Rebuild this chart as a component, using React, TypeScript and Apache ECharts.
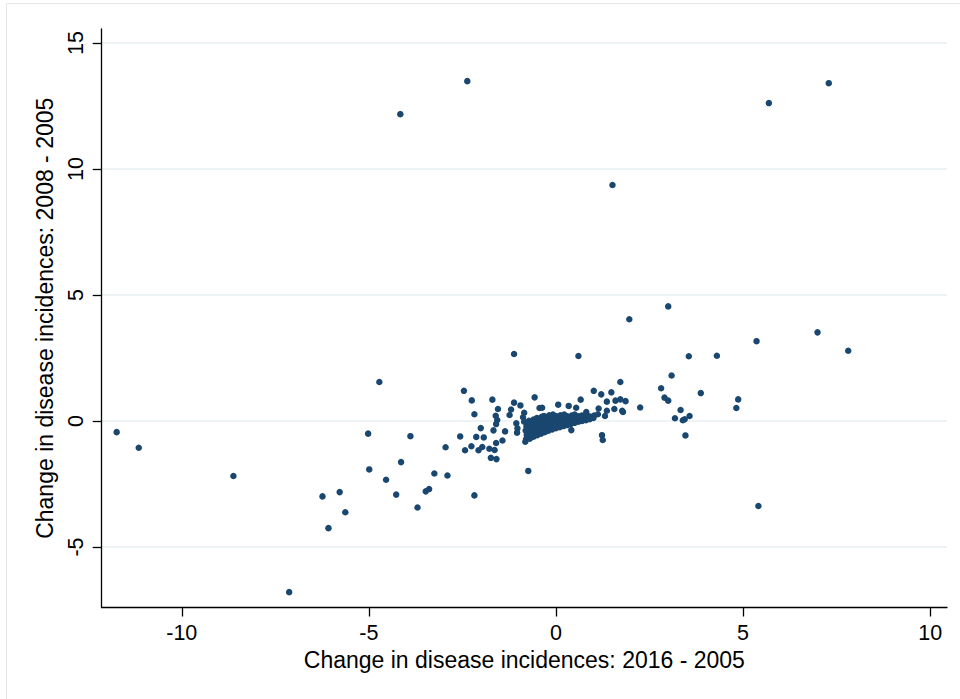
import { useEffect, useRef } from "react";
import * as echarts from "echarts";

const X_TICKS = [-10, -5, 0, 5, 10];
const Y_TICKS = [-5, 0, 5, 10, 15];
const X_TITLE = "Change in disease incidences: 2016 - 2005";
const Y_TITLE = "Change in disease incidences: 2008 - 2005";

// [change 2016-2005, change 2008-2005]
const outlierPoints: [number, number][] = [
  [-2.37, 13.49], [-4.16, 12.18], [1.51, 9.37], [5.69, 12.62], [7.29, 13.41],
  [1.96, 4.04], [3.0, 4.55], [3.55, 2.57], [4.3, 2.59], [5.36, 3.17], [6.99, 3.52], [7.81, 2.79],
  [-1.12, 2.66], [0.6, 2.58], [-4.72, 1.55], [5.41, -3.37], [-0.74, -1.98],
  [-11.74, -0.44], [-11.15, -1.06], [-8.62, -2.18], [-6.24, -2.99], [-5.78, -2.82],
  [-5.63, -3.62], [-6.08, -4.25], [-7.13, -6.79],
];

const rightPoints: [number, number][] = [
  [3.09, 1.81], [2.81, 1.3], [2.9, 0.93], [3.0, 0.81], [3.87, 1.11], [4.87, 0.86], [4.82, 0.52],
  [3.33, 0.44], [3.57, 0.2], [3.18, 0.11], [3.39, 0.03], [3.44, 0.07], [3.46, -0.57],
  [1.72, 1.55], [1.72, 0.86], [1.86, 0.79], [1.79, 0.36], [2.25, 0.54], [1.56, 0.48], [1.77, 0.41],
  [-0.44, 0.52], [-0.37, 0.53], [0.06, 0.65], [0.34, 0.6], [0.54, 0.53], [0.66, 0.85],
  [1.01, 1.2], [1.21, 1.06], [1.48, 1.14], [1.36, 0.77], [1.14, 0.5], [1.36, 0.41], [1.31, 0.2],
  [0.81, 0.36], [0.41, -0.36], [1.23, -0.56], [1.25, -0.75], [1.59, 0.81], [1.12, 0.27], [0.84, 0.21],
  [-0.57, 0.94],
];

const leftPoints: [number, number][] = [
  [-2.46, 1.2], [-2.25, 0.82], [-2.18, 0.27], [-1.7, 0.85], [-1.55, 0.48], [-1.61, 0.21],
  [-1.57, 0.04], [-1.6, -0.12], [-1.67, -0.37], [-1.36, -0.41], [-2.01, -0.28],
  [-2.56, -0.61], [-2.13, -0.63], [-1.93, -0.65], [-1.6, -0.87], [-1.43, -0.77],
  [-2.95, -1.04], [-2.43, -1.16], [-2.26, -1.0], [-2.07, -1.16], [-1.97, -1.03], [-1.78, -1.1],
  [-1.64, -1.15], [-1.74, -1.46], [-1.59, -1.51], [-1.24, 0.24],
  [-5.02, -0.5], [-3.89, -0.6], [-4.99, -1.92], [-4.14, -1.63], [-4.54, -2.33], [-4.27, -2.92],
  [-3.7, -3.43], [-3.48, -2.79], [-3.39, -2.7], [-3.25, -2.08], [-2.9, -2.16], [-2.18, -2.95],
  [-1.12, 0.73], [-0.95, 0.62], [-1.2, 0.46], [-0.82, -0.82], [-0.85, 0.33], [-0.88, 0.15],
  [-1.06, -0.09], [-1.03, -0.29], [-1.04, -0.46], [-0.85, -0.03],
];

const clusterPoints: [number, number][] = [
  [-0.8, -0.72], [-0.78, -0.55], [-0.81, -0.38], [-0.79, -0.22], [-0.77, -0.08],
  [-0.7, -0.7], [-0.71, -0.54], [-0.68, -0.4], [-0.7, -0.25], [-0.69, -0.1], [-0.72, 0.01],
  [-0.6, -0.62], [-0.61, -0.47], [-0.59, -0.34], [-0.62, -0.2], [-0.58, -0.06], [-0.6, 0.06],
  [-0.5, -0.56], [-0.49, -0.42], [-0.52, -0.28], [-0.5, -0.14], [-0.48, 0.0], [-0.51, 0.12],
  [-0.4, -0.5], [-0.41, -0.36], [-0.39, -0.22], [-0.42, -0.08], [-0.4, 0.06], [-0.38, 0.17],
  [-0.3, -0.44], [-0.29, -0.31], [-0.31, -0.18], [-0.3, -0.05], [-0.28, 0.08], [-0.32, 0.2],
  [-0.2, -0.38], [-0.21, -0.25], [-0.19, -0.12], [-0.2, 0.01], [-0.22, 0.13], [-0.18, 0.23],
  [-0.1, -0.33], [-0.11, -0.2], [-0.09, -0.07], [-0.1, 0.05], [-0.12, 0.17], [-0.08, 0.26],
  [0.0, -0.28], [0.01, -0.16], [-0.01, -0.03], [0.02, 0.09], [0.0, 0.2],
  [0.1, -0.24], [0.09, -0.12], [0.11, 0.0], [0.1, 0.12], [0.12, 0.23],
  [0.2, -0.2], [0.21, -0.08], [0.19, 0.04], [0.2, 0.15], [0.22, 0.26],
  [0.3, -0.16], [0.31, -0.04], [0.29, 0.08], [0.3, 0.19],
  [0.4, -0.11], [0.41, 0.01], [0.39, 0.12], [0.42, 0.22],
  [0.5, -0.07], [0.51, 0.05], [0.49, 0.16], [0.5, 0.26],
  [0.6, -0.03], [0.61, 0.08], [0.59, 0.19],
  [0.7, 0.0], [0.71, 0.11], [0.69, 0.22],
  [0.8, 0.03], [0.81, 0.14], [0.79, 0.25],
  [0.9, 0.07], [0.91, 0.18],
  [1.0, 0.12], [1.02, 0.22],
];

export default function App() {
  const ref = useRef<HTMLDivElement>(null);
  useEffect(() => {
    document.body.style.margin = "0";
    const chart = echarts.init(ref.current!, null, { renderer: "svg" });
    const font = "'Liberation Sans', Arial, Helvetica, sans-serif";
    const axisColor = "#000";
    chart.setOption({
      animation: false,
      backgroundColor: "#ffffff",
      grid: { left: 101.7, right: 13, top: 29, bottom: 91.5, containLabel: false },
      xAxis: {
        type: "value",
        min: -12.14,
        max: 10.45,
        axisLine: { show: true, onZero: false, lineStyle: { color: axisColor, width: 1.3 } },
        axisTick: { show: true, length: 9, customValues: X_TICKS, lineStyle: { color: axisColor, width: 1.3 } },
        axisLabel: { customValues: X_TICKS, fontSize: 21.5, color: "#000", fontFamily: font, margin: 14 },
        splitLine: { show: false },
        name: X_TITLE,
        nameLocation: "middle",
        nameGap: 40,
        nameTextStyle: { fontSize: 23, color: "#000", fontFamily: font },
      },
      yAxis: {
        type: "value",
        min: -7.4,
        max: 15.56,
        axisLine: { show: true, onZero: false, lineStyle: { color: axisColor, width: 1.3 } },
        axisTick: { show: true, length: 9, customValues: Y_TICKS, lineStyle: { color: axisColor, width: 1.3 } },
        axisLabel: { customValues: Y_TICKS, rotate: 90, fontSize: 21.5, color: "#000", fontFamily: font, margin: 15 },
        splitLine: { show: true, lineStyle: { color: "#e8eff3", width: 1.5 } },
        name: Y_TITLE,
        nameLocation: "middle",
        nameGap: 42,
        nameTextStyle: { fontSize: 23, color: "#000", fontFamily: font },
      },
      series: [
        {
          type: "scatter",
          data: [...outlierPoints, ...rightPoints, ...leftPoints, ...clusterPoints],
          symbol: "circle",
          symbolSize: 6.5,
          itemStyle: { color: "#1a476f", opacity: 1 },
        },
      ],
      graphic: [
        {
          type: "rect",
          silent: true,
          shape: { x: 6.5, y: 3.5, width: 1000, height: 1000 },
          style: { fill: "none", stroke: "#e6e6e6", lineWidth: 1 },
        },
      ],
    });
    return () => chart.dispose();
  }, []);
  return <div ref={ref} style={{ width: 960, height: 699, position: "absolute", left: 0, top: 0 }} />;
}
